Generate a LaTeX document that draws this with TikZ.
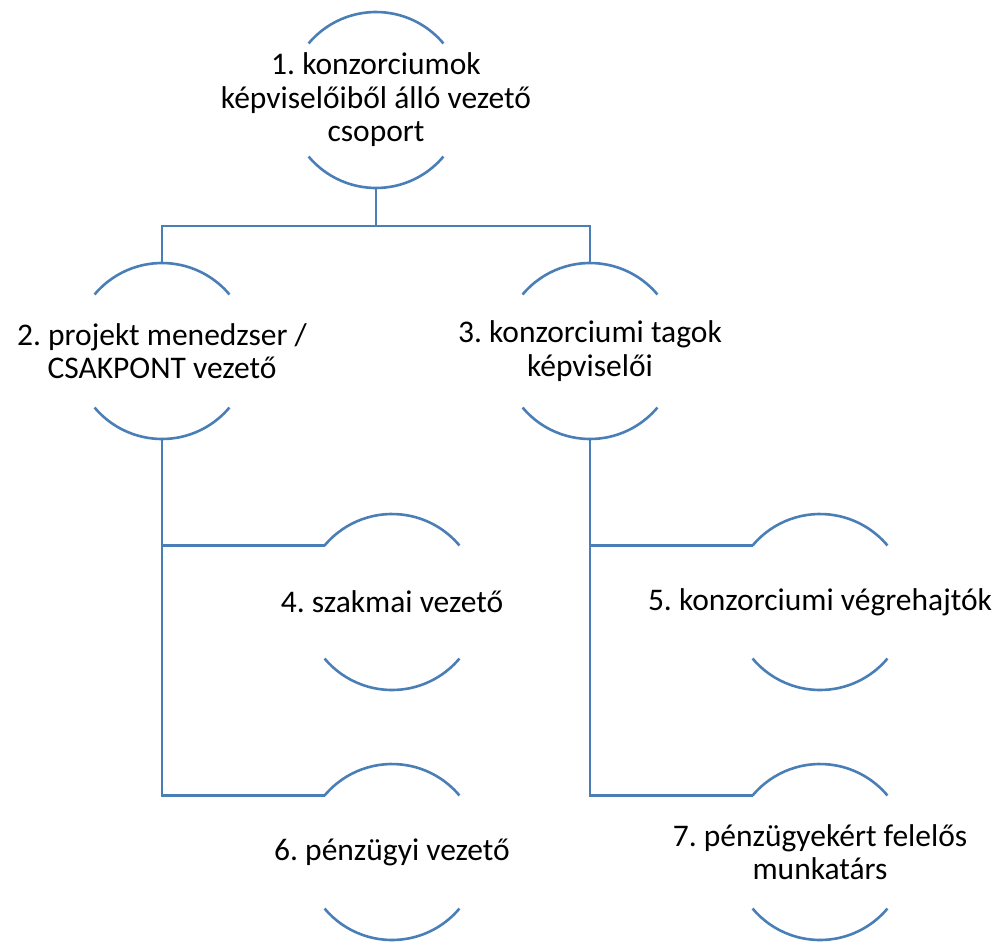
\documentclass[tikz,border=0pt]{standalone}
\usepackage{fontspec}
\setmainfont{Carlito}
\usetikzlibrary{positioning}
\definecolor{arcblue}{RGB}{74,126,182}
\frenchspacing

\begin{document}
\begin{tikzpicture}[x=1pt, y=1pt,
    member/.style={inner sep=0pt, align=center,
      font=\fontsize{31.5}{33.5}\selectfont},
    rim/.style={draw=arcblue, line width=2.6pt},
    link/.style={draw=arcblue, line width=2.6pt}]
    \useasboundingbox (0,0) rectangle (1003,-942);

    % Members
    \node[member] (lead) at (376,-100) {1. konzorciumok\\képviselőiből álló vezető\\csoport};
    \node[member] (pm) at (162,-351) {2. projekt menedzser /\\CSAKPONT vezető};
    \node[member] (rep) at (590,-351) {3. konzorciumi tagok\\képviselői};
    \node[member] (prof) at (392,-602) {4. szakmai vezető};
    \node[member] (exec) at (820,-602) {5. konzorciumi végrehajtók};
    \node[member] (fin) at (392,-852) {6. pénzügyi vezető};
    \node[member] (acc) at (820,-852) {7. pénzügyekért felelős\\munkatárs};

    % Arcs above and below each member
    \foreach \n in {lead, pm, rep, prof, exec, fin, acc} {
      \path (\n.center) ++(90:88) coordinate (\n-top)
            (\n.center) ++(270:88) coordinate (\n-bot)
            (\n.center) ++(140:88) coordinate (\n-in);
      \draw[rim] (\n-in) arc[start angle=140, end angle=40, radius=88];
      \draw[rim] (\n.center) ++(220:88) arc[start angle=220, end angle=320, radius=88];
    }

    % Connectors
    \draw[link] (lead-bot) -- ++(0,-38) -| (pm-top);
    \draw[link] (lead-bot) -- ++(0,-38) -| (rep-top);
    \foreach \p/\c in {pm/prof, pm/fin, rep/exec, rep/acc} {
      \draw[link] (\p-bot) |- (\c-in);
    }

\end{tikzpicture}
\end{document}
